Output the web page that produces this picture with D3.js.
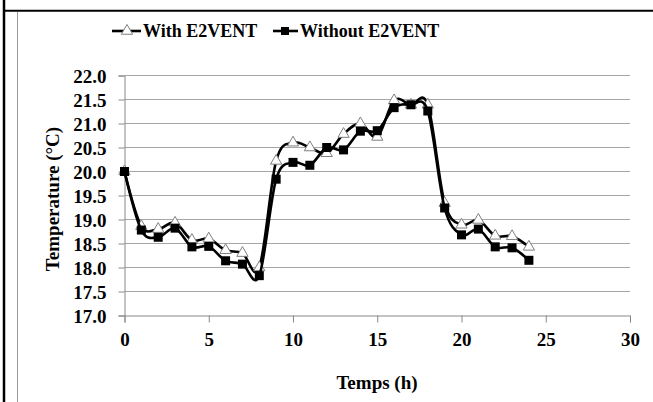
<!DOCTYPE html>
<html>
<head>
<meta charset="utf-8">
<script src="https://cdn.jsdelivr.net/npm/d3@7"></script>
<style>
  body { margin: 0; background: #fff; }
  svg { display: block; font-family: "Liberation Serif", "Times New Roman", serif; font-weight: bold; }
</style>
</head>
<body>
<svg width="653" height="402"></svg>
<script>
// data
const hours = [0,1,2,3,4,5,6,7,8,9,10,11,12,13,14,15,16,17,18,19,20,21,22,23,24];
const withE2vent = [20.0,18.86,18.8,18.93,18.57,18.6,18.36,18.3,18.0,20.22,20.6,20.5,20.38,20.78,21.0,20.72,21.48,21.39,21.39,19.34,18.89,18.99,18.66,18.65,18.43];
const withoutE2vent = [20.0,18.78,18.63,18.82,18.43,18.44,18.14,18.07,17.83,19.84,20.19,20.13,20.5,20.45,20.84,20.85,21.33,21.39,21.26,19.24,18.68,18.8,18.43,18.41,18.15];
const seriesNames = ["With E2VENT", "Without E2VENT"];
const xTicks = [0,5,10,15,20,25,30];
const yTicks = [17.0,17.5,18.0,18.5,19.0,19.5,20.0,20.5,21.0,21.5,22.0];

let svg = d3.select('svg');

// frame lines of the surrounding cell
svg.append('line').attr('x1',4).attr('x2',4).attr('y1',0).attr('y2',402)
  .attr('stroke','#000').attr('stroke-width',2.5);
svg.append('line').attr('x1',3).attr('x2',653).attr('y1',10.8).attr('y2',10.8)
  .attr('stroke','#000').attr('stroke-width',2);
svg.append('line').attr('x1',17.5).attr('x2',17.5).attr('y1',12).attr('y2',402)
  .attr('stroke','#999').attr('stroke-width',1);

let xScale = d3.scaleLinear().domain([0,30]).range([124.5,630]);
let yScale = d3.scaleLinear().domain([17,22]).range([315.5,75.5]);

// grid
svg.append('g').selectAll('line').data(yTicks.slice(1)).join('line')
  .attr('x1',124.5).attr('x2',630)
  .attr('y1',d => yScale(d)).attr('y2',d => yScale(d))
  .attr('stroke','#a6a6a6').attr('stroke-width',1);

// axes
let xAxis = svg.append('g').attr('transform','translate(0,'+yScale(17)+')')
  .call(d3.axisBottom(xScale).tickValues(xTicks).tickSize(7).tickPadding(10).tickFormat(d3.format('d')));
let yAxis = svg.append('g').attr('transform','translate('+xScale(0)+',0)')
  .call(d3.axisLeft(yScale).tickValues(yTicks).tickSize(6).tickPadding(12).tickFormat(d3.format('.1f')));
[xAxis,yAxis].forEach(function (a){
  a.select('.domain').attr('stroke','#888').attr('stroke-width',1);
  a.selectAll('.tick line').attr('stroke','#888');
  a.selectAll('text').attr('fill','#000').style('font-family','Liberation Serif, serif')
    .style('font-weight','bold').style('font-size','19px');
});
yAxis.selectAll('text').attr('dy','0.35em');

// axis titles
svg.append('text').attr('x',377).attr('y',389).attr('text-anchor','middle')
  .style('font-size','19px').text('Temps (h)');
svg.append('text').attr('transform','translate(59,199) rotate(-90)').attr('text-anchor','middle')
  .style('font-size','19px').text('Temperature (°C)');

// lines
let line = d3.line()
  .x(function (d,i){return xScale(hours[i])})
  .y(function (d){return yScale(d)})
  .curve(d3.curveCatmullRom.alpha(0));

let triangle = d3.symbol().type(d3.symbolTriangle).size(55);

let g1 = svg.append('g');
g1.append('path').attr('d',line(withE2vent)).attr('fill','none').attr('stroke','#000').attr('stroke-width',2.6);
g1.selectAll('path.m').data(withE2vent).join('path').attr('class','m')
  .attr('d',triangle)
  .attr('transform',(d,i) => 'translate('+xScale(hours[i])+','+yScale(d)+')')
  .attr('fill','#fff').attr('stroke','#7f7f7f').attr('stroke-width',1);

let g2 = svg.append('g');
g2.append('path').attr('d',line(withoutE2vent)).attr('fill','none').attr('stroke','#000').attr('stroke-width',2.6);
g2.selectAll('rect').data(withoutE2vent).join('rect')
  .attr('x',(d,i) => xScale(hours[i])-4.5).attr('y',d => yScale(d)-4.5)
  .attr('width',9).attr('height',9).attr('fill','#000');

// legend
let leg = svg.append('g');
leg.append('line').attr('x1',112).attr('x2',141).attr('y1',31).attr('y2',31).attr('stroke','#000').attr('stroke-width',2.6);
leg.append('path').attr('d',triangle).attr('transform','translate(127,31)')
  .attr('fill','#fff').attr('stroke','#7f7f7f').attr('stroke-width',1);
leg.append('text').attr('x',143).attr('y',37).style('font-size','18px').text(seriesNames[0]);
leg.append('line').attr('x1',273).attr('x2',298).attr('y1',31).attr('y2',31).attr('stroke','#000').attr('stroke-width',2.6);
leg.append('rect').attr('x',281).attr('y',27).attr('width',8).attr('height',8).attr('fill','#000');
leg.append('text').attr('x',300).attr('y',37).style('font-size','18px').text(seriesNames[1]);
</script>
</body>
</html>
